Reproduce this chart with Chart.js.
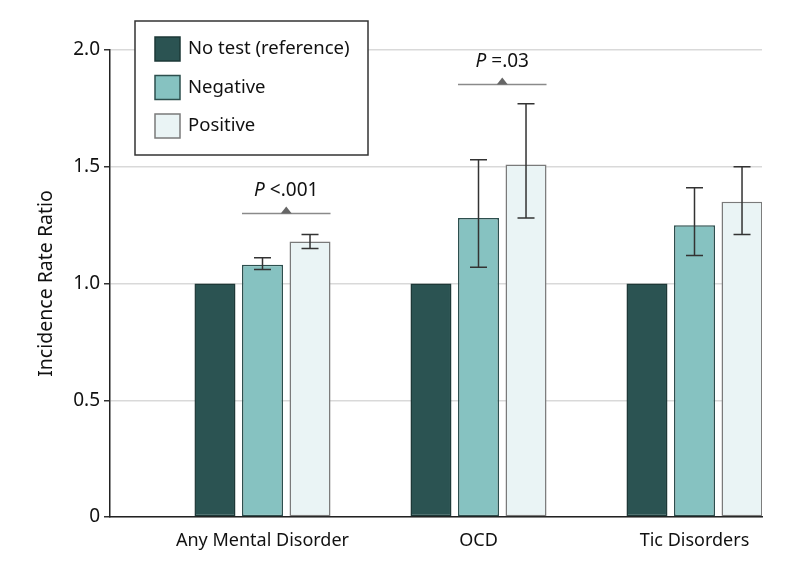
<!DOCTYPE html>
<html>
<head>
<meta charset="utf-8">
<script src="https://cdn.jsdelivr.net/npm/chart.js@4.4.0/dist/chart.umd.min.js"></script>
<style>
  html, body { margin: 0; padding: 0; background: #fff; }
  #wrap { width: 798px; height: 567px; }
</style>
</head>
<body>
<div id="wrap"><canvas id="chart" width="798" height="567"></canvas></div>
<script>
const categories = ["Any Mental Disorder", "OCD", "Tic Disorders"];
const seriesNames = ["No test (reference)", "Negative", "Positive"];

const noTest = [1.0, 1.0, 1.0];
const negative = [1.08, 1.28, 1.25];
const negativeLow = [1.06, 1.07, 1.12];
const negativeHigh = [1.11, 1.53, 1.41];
const positive = [1.18, 1.51, 1.35];
const positiveLow = [1.15, 1.28, 1.21];
const positiveHigh = [1.21, 1.77, 1.50];

const yTicks = [0, 0.5, 1.0, 1.5, 2.0];

// P values comparing negative vs positive
const pCategory = [0, 1];
const pLevel = [1.30, 1.855];
const pText = ["<.001", "=.03"];

const FONT = "'Noto Sans', sans-serif";

let fills = ["#2b5352", "#86c2c1", "#eaf4f5"];
let borders = ["#1d3837", "#2d4f4e", "#7a7a7a"];

function points(arr) {
  return arr.map((v, i) => ({ x: i, y: v }));
}

// error bars on negative / positive
const errorBars = {
  id: "errorBars",
  afterDatasetsDraw(chart) {
    const ctx = chart.ctx;
    const y = chart.scales.y;
    chart.data.datasets.forEach((ds, di) => {
      if (!ds.low) return;
      const meta = chart.getDatasetMeta(di);
      meta.data.forEach((bar, i) => {
        let top = y.getPixelForValue(ds.high[i]);
        let bot = y.getPixelForValue(ds.low[i]);
        ctx.save();
        ctx.strokeStyle = "#333";
        ctx.lineWidth = 1.5;
        ctx.beginPath();
        ctx.moveTo(bar.x, top);
        ctx.lineTo(bar.x, bot);
        ctx.moveTo(bar.x - 8.5, top);
        ctx.lineTo(bar.x + 8.5, top);
        ctx.moveTo(bar.x - 8.5, bot);
        ctx.lineTo(bar.x + 8.5, bot);
        ctx.stroke();
        ctx.restore();
      });
    });
  }
};

// brackets with P value
const brackets = {
  id: "brackets",
  afterDatasetsDraw(chart) {
    const ctx = chart.ctx;
    const y = chart.scales.y;
    const m1 = chart.getDatasetMeta(1);
    const m2 = chart.getDatasetMeta(2);
    pCategory.forEach((c, k) => {
      const b1 = m1.data[c], b2 = m2.data[c];
      const left = b1.x - b1.width / 2;
      const right = b2.x + b2.width / 2;
      const ly = Math.round(y.getPixelForValue(pLevel[k])) + 0.5;
      const cx = (left + right) / 2;
      ctx.save();
      ctx.strokeStyle = "#8a8a8a";
      ctx.lineWidth = 1.5;
      ctx.beginPath();
      ctx.moveTo(left, ly);
      ctx.lineTo(right, ly);
      ctx.stroke();
      ctx.fillStyle = "#666";
      ctx.beginPath();
      ctx.moveTo(cx - 5.5, ly);
      ctx.lineTo(cx + 5.5, ly);
      ctx.lineTo(cx, ly - 7);
      ctx.closePath();
      ctx.fill();

      ctx.fillStyle = "#111";
      ctx.textBaseline = "middle";
      ctx.textAlign = "left";
      const italic = "italic 19px " + FONT;
      const normal = "19px " + FONT;
      ctx.font = italic;
      const wP = ctx.measureText("P ").width;
      ctx.font = normal;
      const wT = ctx.measureText(pText[k]).width;
      const x0 = cx - (wP + wT) / 2;
      const ty = ly - 23;
      ctx.font = italic;
      ctx.fillText("P ", x0, ty);
      ctx.font = normal;
      ctx.fillText(pText[k], x0 + wP, ty);
      ctx.restore();
    });
  }
};

// boxed legend in top left
const boxLegend = {
  id: "boxLegend",
  afterDraw(chart) {
    const ctx = chart.ctx;
    ctx.save();
    ctx.fillStyle = "#fff";
    ctx.strokeStyle = "#333";
    ctx.lineWidth = 1.5;
    ctx.fillRect(135, 21, 233, 134);
    ctx.strokeRect(135, 21, 233, 134);
    chart.data.datasets.forEach((ds, i) => {
      const cy = 49 + i * 38.5;
      ctx.fillStyle = ds.backgroundColor;
      ctx.strokeStyle = ds.borderColor;
      ctx.fillRect(155, cy - 12, 25, 24);
      ctx.strokeRect(155, cy - 12, 25, 24);
      ctx.fillStyle = "#111";
      ctx.font = "18.5px " + FONT;
      ctx.textBaseline = "middle";
      ctx.fillText(ds.label, 188, cy);
    });
    ctx.restore();
  }
};

const datasets = [noTest, negative, positive].map((arr, i) => ({
  label: seriesNames[i],
  data: points(arr),
  backgroundColor: fills[i],
  borderColor: borders[i],
  borderWidth: 1.5,
  borderSkipped: false,
  categoryPercentage: 0.66,
  barPercentage: 0.863
}));
datasets[1].low = negativeLow;
datasets[1].high = negativeHigh;
datasets[2].low = positiveLow;
datasets[2].high = positiveHigh;

new Chart(document.getElementById("chart"), {
  type: "bar",
  data: { datasets: datasets },
  options: {
    responsive: false,
    animation: false,
    layout: { padding: { left: 0, right: 36, top: 50, bottom: 0 } },
    plugins: {
      legend: { display: false },
      tooltip: { enabled: false }
    },
    scales: {
      x: {
        type: "linear",
        offset: false,
        min: -0.706,
        max: 2.3125,
        afterBuildTicks(scale) {
          scale.ticks = categories.map((c, i) => ({ value: i }));
        },
        afterFit(scale) { scale.height = 50; },
        grid: { display: false, offset: false },
        border: { display: true, color: "#222", width: 1.5 },
        ticks: {
          padding: 5,
          color: "#111",
          font: { family: FONT, size: 18 },
          maxRotation: 0,
          autoSkip: false,
          callback: (v) => categories[v]
        }
      },
      y: {
        min: 0,
        max: 2.0,
        afterBuildTicks(scale) {
          scale.ticks = yTicks.map(v => ({ value: v }));
        },
        afterFit(scale) { scale.width = 110; },
        grid: {
          color: "#d9d9d9",
          lineWidth: 1.5,
          tickLength: 6,
          tickColor: "#333"
        },
        border: { display: true, color: "#222", width: 1.5 },
        ticks: {
          padding: 4,
          color: "#111",
          font: { family: FONT, size: 19 },
          callback: (v) => v === 0 ? "0" : v.toFixed(1)
        },
        title: {
          display: true,
          text: "Incidence Rate Ratio",
          color: "#111",
          font: { family: FONT, size: 19.5 },
          padding: { top: 35, bottom: 0 }
        }
      }
    }
  },
  plugins: [errorBars, brackets, boxLegend]
});
</script>
</body>
</html>
